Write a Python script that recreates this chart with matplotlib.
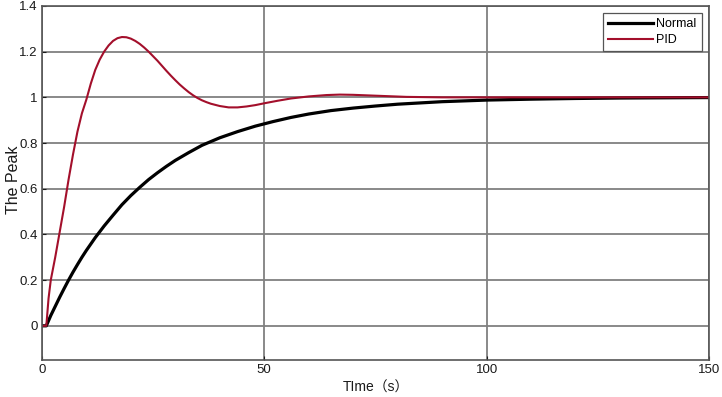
import matplotlib
matplotlib.use('Agg')
import matplotlib.pyplot as plt

# step responses
t_normal = [0, 1, 2, 3, 4, 5, 6, 7, 8, 9, 10, 12, 14, 16, 18, 20, 22, 24, 26,
            28, 30, 33, 36, 40, 44, 48, 52, 56, 60, 65, 70, 75, 80, 90, 100,
            110, 120, 130, 140, 150]
y_normal = [0, 0, 0.045, 0.085, 0.125, 0.163, 0.2, 0.235, 0.268, 0.3, 0.33,
            0.386, 0.437, 0.484, 0.53, 0.57, 0.606, 0.64, 0.67, 0.698, 0.724,
            0.758, 0.79, 0.823, 0.85, 0.874, 0.894, 0.912, 0.927, 0.942,
            0.953, 0.962, 0.97, 0.981, 0.988, 0.992, 0.995, 0.997, 0.998,
            0.999]

t_pid = [0, 1, 1.5, 2, 2.5, 3, 4, 5, 6, 7, 8, 9, 10, 11, 12, 13, 14, 15, 16,
         17, 18, 19, 20, 21, 22, 23, 24, 25, 26, 27, 28, 29, 30, 31, 32, 33,
         34, 35, 36, 37, 38, 40, 42, 44, 46, 48, 50, 53, 56, 60, 64, 67, 70,
         74, 78, 82, 86, 90, 100, 120, 150]
y_pid = [0, 0, 0.12, 0.2, 0.25, 0.3, 0.41, 0.52, 0.64, 0.75, 0.85, 0.93, 0.99,
         1.06, 1.12, 1.165, 1.2, 1.227, 1.247, 1.259, 1.264, 1.263, 1.257,
         1.247, 1.234, 1.218, 1.2, 1.18, 1.16, 1.138, 1.116, 1.095, 1.075,
         1.056, 1.039, 1.023, 1.009, 0.997, 0.987, 0.979, 0.972, 0.962,
         0.956, 0.956, 0.96, 0.966, 0.974, 0.985, 0.995, 1.004, 1.01, 1.012,
         1.011, 1.008, 1.005, 1.002, 1.001, 1.0, 1.0, 1.0, 1.0]

x_ticks = [0, 50, 100, 150]
y_ticks = [0, 0.2, 0.4, 0.6, 0.8, 1.0, 1.2, 1.4]
y_ticklabels = ['0', '0.2', '0.4', '0.6', '0.8', '1', '1.2', '1.4']

plt.rcParams['font.family'] = ['Liberation Sans', 'Noto Sans CJK SC', 'DejaVu Sans']

fig = plt.figure(figsize=(7.22, 3.97), dpi=100)
ax = fig.add_axes([0.058, 0.093, 0.924, 0.892])

ax.plot(t_normal, y_normal, color='black', lw=2.3, label='Normal')
ax.plot(t_pid, y_pid, color='#a30f2b', lw=1.5, label='PID')

ax.set_xlim(0, 150)
ax.set_ylim(-0.15, 1.4)
ax.set_xticks(x_ticks)
ax.set_yticks(y_ticks)
ax.set_yticklabels(y_ticklabels)
ax.grid(True, color='#808080', lw=1.3)
ax.set_axisbelow(True)
for sp in ax.spines.values():
    sp.set_color('#555555')
    sp.set_linewidth(1.2)
ax.tick_params(labelsize=9.5, colors='#1a1a1a', length=3, direction='in', pad=3)

ax.set_xlabel('TIme（s）', fontsize=10, color='#1a1a1a', labelpad=3)
ax.set_ylabel('The Peak', fontsize=11.5, color='#1a1a1a')
ax.yaxis.set_label_coords(-0.032, 0.51)

leg = ax.legend(loc='upper right', fontsize=9, fancybox=False,
                edgecolor='#555555', framealpha=1, borderaxespad=0.6,
                handlelength=3.6, borderpad=0.4, labelspacing=0.3,
                handletextpad=0.3)
leg.get_frame().set_linewidth(0.9)

fig.savefig('out.png', dpi=100)
